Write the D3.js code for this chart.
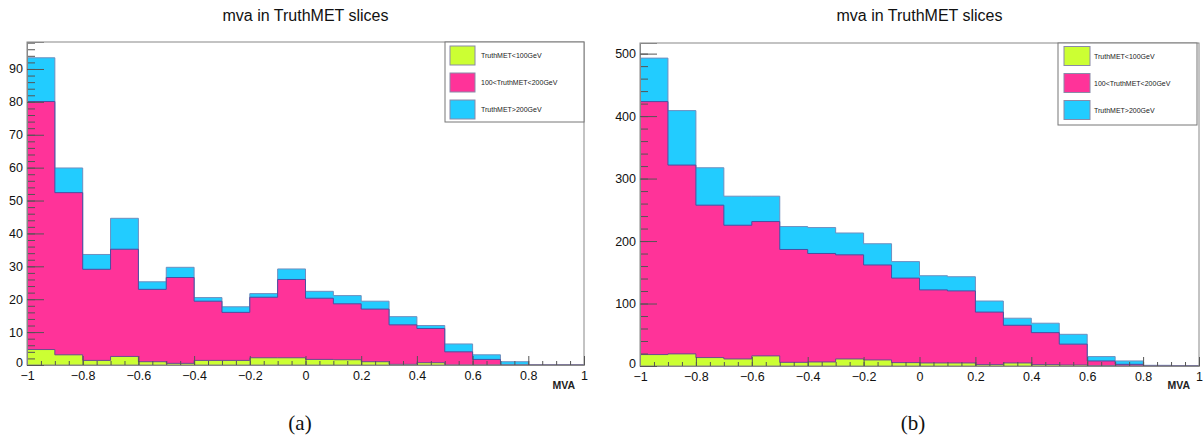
<!DOCTYPE html>
<html>
<head>
<meta charset="utf-8">
<script src="https://cdn.jsdelivr.net/npm/d3@7"></script>
<style>
  html, body { margin: 0; padding: 0; background: #fff; }
  svg { display: block; font-family: "Liberation Sans", Arial, Helvetica, sans-serif; }
</style>
</head>
<body>
<svg id="chart" width="1204" height="437"></svg>
<script>
// ---- data ----
const binEdges = [-1,-0.9,-0.8,-0.7,-0.6,-0.5,-0.4,-0.3,-0.2,-0.1,0,0.1,0.2,0.3,0.4,0.5,0.6,0.7,0.8,0.9,1];
const seriesNames = ["TruthMET<100GeV", "100<TruthMET<200GeV", "TruthMET>200GeV"];
const seriesColors = ["#ccff33", "#ff3399", "#22ccff"];

// panel (a)
const aLow  = [4.7,3.1,1.4,2.6,1.0,0.5,1.4,1.4,2.2,2.2,1.7,1.6,1.0,0.2,0.7,0,0,0,0,0];
const aMid  = [75.4,49.3,27.7,32.6,22.0,26.1,18.0,14.6,18.4,23.8,18.6,17.0,16.0,12.0,10.4,4.0,1.7,0,0,0];
const aHigh = [13.3,7.5,4.5,9.4,2.3,3.1,1.1,1.7,1.1,3.2,2.1,2.5,2.4,2.5,0.9,2.4,1.4,1.0,0,0];

// panel (b)
const bLow  = [18.3,19.4,13.5,11.3,16.2,5.9,6.5,11.3,9.7,5.4,4.9,4.9,2.2,4.9,2.2,1.6,0.5,0,0,0];
const bMid  = [404.9,302.2,243.9,214.0,215.0,180.6,173.6,166.6,152.0,135.3,116.9,115.3,84.1,60.3,51.2,33.4,7.6,2.7,0,0];
const bHigh = [69.6,87.2,59.9,46.5,40.6,36.7,41.5,35.0,34.0,26.4,22.7,22.7,17.7,11.3,15.1,15.7,7.0,5.4,1.1,0.5];

const xTickValues = [-1,-0.8,-0.6,-0.4,-0.2,0,0.2,0.4,0.6,0.8,1];
const xTickLabels = ["\u22121","\u22120.8","\u22120.6","\u22120.4","\u22120.2","0","0.2","0.4","0.6","0.8","1"];
const aYTicks = [0,10,20,30,40,50,60,70,80,90];
const bYTicks = [0,100,200,300,400,500];

const titleText = "mva in TruthMET slices";
const xAxisTitle = "MVA";
const captions = ["(a)", "(b)"];

// ---- drawing ----
const svg = d3.select("#chart");

function drawPanel(cfg) {
  const { left, right, top, bottom, ymax, low, mid, high, yTicks, yMinorStep, legend, caption, captionX } = cfg;
  const g = svg.append("g");
  const x = d3.scaleLinear().domain([-1, 1]).range([left, right]);
  const y = d3.scaleLinear().domain([0, ymax]).range([bottom, top]);

  // cumulative stacks
  const c1 = low.slice();
  const c2 = low.map((v, i) => v + mid[i]);
  const c3 = c2.map((v, i) => v + high[i]);

  function stepPoints(vals) {
    const pts = [];
    vals.forEach((v, i) => {
      pts.push([binEdges[i], v]);
      pts.push([binEdges[i + 1], v]);
    });
    return pts;
  }
  const area = d3.area().x(d => x(d[0])).y0(y(0)).y1(d => y(d[1]));
  const line = d3.line().x(d => x(d[0])).y(d => y(d[1]));

  const layers = [
    { vals: c3, fill: seriesColors[2], stroke: "#6f8fbf" },
    { vals: c2, fill: seriesColors[1], stroke: "#4b4fa0" },
    { vals: c1, fill: seriesColors[0], stroke: "#6a4a90" }
  ];
  layers.forEach(L => {
    const pts = stepPoints(L.vals);
    g.append("path").attr("d", area(pts)).attr("fill", L.fill).attr("stroke", "none");
    g.append("path").attr("d", line(pts)).attr("fill", "none")
      .attr("stroke", L.stroke).attr("stroke-width", 1);
  });

  // frame
  g.append("rect").attr("x", left).attr("y", top)
    .attr("width", right - left).attr("height", bottom - top)
    .attr("fill", "none").attr("stroke", "#888").attr("stroke-width", 1);

  // x axis: minor ticks
  const xMinor = d3.range(-1, 1.0001, 0.05).map(v => +v.toFixed(2));
  g.append("g").attr("transform", `translate(0,${bottom})`)
    .call(d3.axisBottom(x).tickValues(xMinor).tickSize(-4).tickFormat(""))
    .call(s => s.select(".domain").remove())
    .call(s => s.selectAll("line").attr("stroke", "#555"));
  // x axis: major ticks + labels
  g.append("g").attr("transform", `translate(0,${bottom})`)
    .call(d3.axisBottom(x).tickValues(xTickValues).tickSize(-9).tickPadding(6)
      .tickFormat((d, i) => xTickLabels[i]))
    .call(s => s.select(".domain").attr("stroke", "#888"))
    .call(s => s.selectAll("line").attr("stroke", "#555"))
    .call(s => s.selectAll("text").attr("font-size", 12.5).attr("fill", "#111")
      .attr("font-family", "'Liberation Sans', Arial, sans-serif"));

  // y axis minor ticks
  const yMinor = d3.range(0, ymax, yMinorStep);
  g.append("g").attr("transform", `translate(${left},0)`)
    .call(d3.axisLeft(y).tickValues(yMinor).tickSize(-8).tickFormat(""))
    .call(s => s.select(".domain").remove())
    .call(s => s.selectAll("line").attr("stroke", "#555"));
  // y axis major ticks
  g.append("g").attr("transform", `translate(${left},0)`)
    .call(d3.axisLeft(y).tickValues(yTicks).tickSize(-17).tickPadding(4).tickFormat(d3.format("d")))
    .call(s => s.select(".domain").attr("stroke", "#888"))
    .call(s => s.selectAll("line").attr("stroke", "#555"))
    .call(s => s.selectAll("text").attr("font-size", 12.5).attr("fill", "#111")
      .attr("font-family", "'Liberation Sans', Arial, sans-serif"))
    .call(s => s.selectAll(".tick").filter(d => d === 0).select("text").attr("dy", "0.1em"));

  // title
  g.append("text").attr("x", (left + right) / 2).attr("y", 21)
    .attr("text-anchor", "middle").attr("font-size", 16).attr("fill", "#111")
    .text(titleText);

  // x axis title
  g.append("text").attr("x", right - 9).attr("y", 389)
    .attr("text-anchor", "end").attr("font-size", 10.5).attr("font-weight", "bold")
    .attr("fill", "#222").text(xAxisTitle);

  // legend
  const lg = g.append("g");
  lg.append("rect").attr("x", legend.x).attr("y", legend.y)
    .attr("width", legend.w).attr("height", legend.h)
    .attr("fill", "#fff").attr("stroke", "#777").attr("stroke-width", 1);
  seriesNames.forEach((name, i) => {
    const cy = legend.y + legend.rowStart + i * legend.rowGap;
    lg.append("rect").attr("x", legend.x + legend.swx).attr("y", cy - 9.5)
      .attr("width", legend.sww).attr("height", 19)
      .attr("fill", seriesColors[i]).attr("stroke", "#8a8aa8").attr("stroke-width", 1);
    lg.append("text").attr("x", legend.x + legend.tx).attr("y", cy + 2.5)
      .attr("font-size", 7).attr("fill", "#222").text(name);
  });

  // caption
  svg.append("text").attr("x", captionX).attr("y", 430)
    .attr("text-anchor", "middle").attr("font-size", 21)
    .attr("font-family", "'Liberation Serif', 'DejaVu Serif', serif")
    .attr("fill", "#111").text(caption);
}

drawPanel({
  left: 27, right: 584, top: 42, bottom: 365, ymax: 98.2,
  low: aLow, mid: aMid, high: aHigh,
  yTicks: aYTicks, yMinorStep: 2,
  legend: { x: 445, y: 42, w: 139, h: 80, rowStart: 13.5, rowGap: 27, swx: 5, sww: 25, tx: 36 },
  caption: captions[0], captionX: 300
});

drawPanel({
  left: 640, right: 1199, top: 43, bottom: 366, ymax: 517,
  low: bLow, mid: bMid, high: bHigh,
  yTicks: bYTicks, yMinorStep: 20,
  legend: { x: 1058, y: 43, w: 139, h: 82, rowStart: 13, rowGap: 27, swx: 6, sww: 26, tx: 36 },
  caption: captions[1], captionX: 913
});
</script>
</body>
</html>
